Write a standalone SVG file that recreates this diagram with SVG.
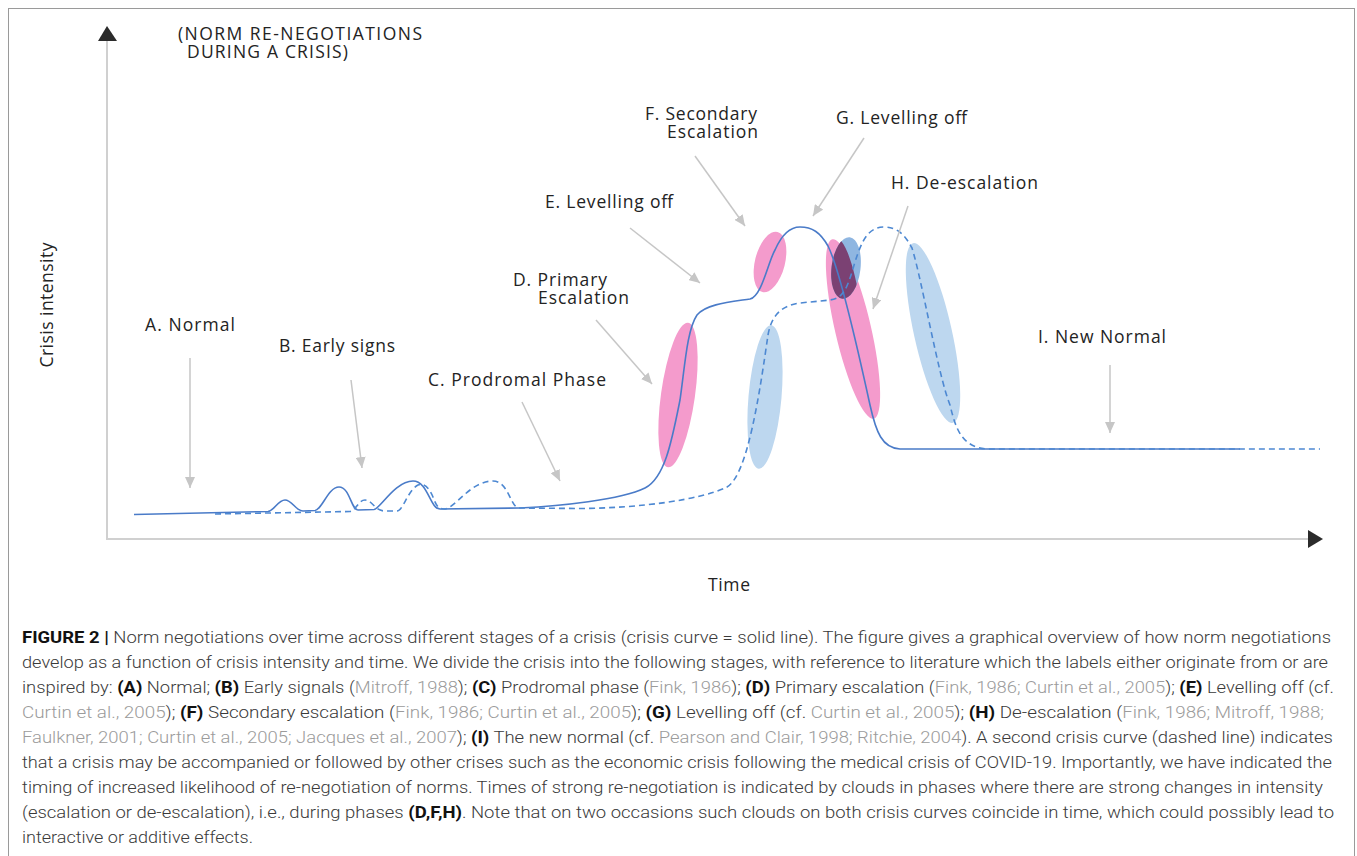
<svg xmlns="http://www.w3.org/2000/svg" width="1357" height="856" viewBox="0 0 1357 856">
<style>
.lbl{font-family:"Open Sans","Liberation Sans",sans-serif;font-size:17.5px;fill:#232323}
.cap{font-family:Roboto,"Liberation Sans",sans-serif;font-size:16.5px;font-weight:300;fill:#3a3a3a}
.b{font-weight:bold;fill:#111}
.g{fill:#9b9b9b}
.ann{stroke:#c6c6c6;stroke-width:1.5;fill:none;marker-end:url(#ah)}
.axis{stroke:#d0d0d0;stroke-width:2;fill:none}
.pink{fill:#f49bcc}
.blue{fill:#bdd7ef}
.blue2{fill:#8fb6e1}
.solid{stroke:#4a7bc8;stroke-width:1.6;fill:none}
.dash{stroke:#4d88d2;stroke-width:1.6;fill:none;stroke-dasharray:6 4}
</style>
<defs>
<marker id="ah" markerUnits="userSpaceOnUse" markerWidth="11" markerHeight="10" refX="11" refY="5" orient="auto">
<path d="M0,0 L11,5 L0,10 z" fill="#c6c6c6"/>
</marker>
<clipPath id="clipH">
<ellipse cx="853" cy="329" rx="18" ry="92" transform="rotate(-13 853 329)"/>
</clipPath>
</defs>
<rect x="8.5" y="8.5" width="1346" height="880" fill="#ffffff" stroke="#9a9a9a" stroke-width="1"/>

<g id="axes">
<line class="axis" x1="107" y1="40" x2="107" y2="540"/>
<line class="axis" x1="106" y1="539" x2="1310" y2="539"/>
<path d="M107,26 L117,41 L98,41 z" fill="#2b2b2b"/>
<path d="M1323,539 L1308,530 L1308,548 z" fill="#2b2b2b"/>
<text class="lbl"><tspan x="178" y="40" textLength="244">(NORM RE-NEGOTIATIONS</tspan><tspan x="187" y="58" textLength="161">DURING A CRISIS)</tspan></text>
<text class="lbl" transform="translate(53,305) rotate(-90)" text-anchor="middle" textLength="125">Crisis intensity</text>
<text class="lbl" x="729" y="591" text-anchor="middle" textLength="42">Time</text>
</g>

<g id="clouds">
<ellipse id="cloud-D" class="pink" cx="678" cy="395" rx="17" ry="73" transform="rotate(8 678 395)"/>
<ellipse id="cloud-F" class="pink" cx="770" cy="262" rx="15" ry="31" transform="rotate(14 770 262)"/>
<ellipse id="cloud-H" class="pink" cx="853" cy="329" rx="18" ry="92" transform="rotate(-13 853 329)"/>
<ellipse id="cloud-2a" class="blue" cx="765" cy="397" rx="16.5" ry="72" transform="rotate(5 765 397)"/>
<ellipse id="cloud-2b" class="blue2" cx="846" cy="268" rx="14.5" ry="31" transform="rotate(7 846 268)"/>
<ellipse id="cloud-overlap" cx="846" cy="268" rx="14.5" ry="31" transform="rotate(7 846 268)" fill="#7b4173" clip-path="url(#clipH)"/>
<ellipse id="cloud-2c" class="blue" cx="933" cy="333" rx="19" ry="92" transform="rotate(-12.5 933 333)"/>
</g>

<g id="curves">
<path id="curve-solid" class="solid" d="M134,514.5 L268,511.5 C274,511 278,500 285,500 C292,500 296,511 303,511 L315,510.5 C322,510 328,487 339,487 C350,487 351,510 358,510 L374,509.5 C380,509 395,481 413,481 C428,481 430,509 440,509 L520,508 C560,506 620,500 645,488 C665,478 672,440 680,400 C685,365 687,330 697,315 C706,304 730,302 750,299 C762,296 768,262 775,250 C782,234 790,227 800,227 C812,227 820,232 828,246 C840,270 858,350 870,405 C876,432 882,448 900,449 L1240,449"/>
<path id="curve-dashed" class="dash" d="M215,514 L350,511.5 C356,511 358,500 365,500 C372,500 375,511 385,511 L397,511 C403,511 408,490 418,485 C425,482 430,490 433,497 C436,505 438,509 444,509 C455,509 470,481 493,481 C508,481 510,505 518,508 L580,508.5 C640,508 700,500 727,487 C748,475 760,390 768,335 C772,312 785,305 800,303 L830,300 C845,298 848,285 855,262 C862,240 868,228 883,227 C898,227 905,235 912,248 C922,280 938,375 950,405 C956,430 962,447 987,449 L1320,449"/>
</g>

<g id="connectors">
<line class="ann" x1="190" y1="358" x2="190" y2="488"/>
<line class="ann" x1="351" y1="380" x2="362" y2="468"/>
<line class="ann" x1="522" y1="402" x2="560" y2="481"/>
<line class="ann" x1="596" y1="320" x2="652" y2="384"/>
<line class="ann" x1="630" y1="228" x2="700" y2="283"/>
<line class="ann" x1="695" y1="156" x2="745" y2="226"/>
<line class="ann" x1="864" y1="138" x2="813" y2="216"/>
<line class="ann" x1="908" y1="206" x2="873" y2="309"/>
<line class="ann" x1="1110" y1="365" x2="1110" y2="433"/>
</g>

<g id="node-A"><text class="lbl" x="145" y="331" textLength="90">A. Normal</text></g>
<g id="node-B"><text class="lbl" x="279" y="352" textLength="116">B. Early signs</text></g>
<g id="node-C"><text class="lbl" x="428" y="386" textLength="178">C. Prodromal Phase</text></g>
<g id="node-D"><text class="lbl"><tspan x="513" y="286" textLength="94">D. Primary</tspan><tspan x="538" y="304" textLength="91">Escalation</tspan></text></g>
<g id="node-E"><text class="lbl" x="545" y="208" textLength="128">E. Levelling off</text></g>
<g id="node-F"><text class="lbl"><tspan x="645" y="120" textLength="112">F. Secondary</tspan><tspan x="667" y="138" textLength="91">Escalation</tspan></text></g>
<g id="node-G"><text class="lbl" x="836" y="124" textLength="131">G. Levelling off</text></g>
<g id="node-H"><text class="lbl" x="891" y="189" textLength="147">H. De-escalation</text></g>
<g id="node-I"><text class="lbl" x="1038" y="343" textLength="128">I. New Normal</text></g>

<g id="caption">
<text class="cap" x="22" y="643" textLength="1309" lengthAdjust="spacingAndGlyphs"><tspan class="b">FIGURE 2 |</tspan> Norm negotiations over time across different stages of a crisis (crisis curve = solid line). The figure gives a graphical overview of how norm negotiations</text>
<text class="cap" x="22" y="668" textLength="1306" lengthAdjust="spacingAndGlyphs">develop as a function of crisis intensity and time. We divide the crisis into the following stages, with reference to literature which the labels either originate from or are</text>
<text class="cap" x="22" y="693" textLength="1312" lengthAdjust="spacingAndGlyphs">inspired by: <tspan class="b">(A)</tspan> Normal; <tspan class="b">(B)</tspan> Early signals (<tspan class="g">Mitroff, 1988</tspan>); <tspan class="b">(C)</tspan> Prodromal phase (<tspan class="g">Fink, 1986</tspan>); <tspan class="b">(D)</tspan> Primary escalation (<tspan class="g">Fink, 1986; Curtin et al., 2005</tspan>); <tspan class="b">(E)</tspan> Levelling off (cf.</text>
<text class="cap" x="22" y="718" textLength="1302" lengthAdjust="spacingAndGlyphs"><tspan class="g">Curtin et al., 2005</tspan>); <tspan class="b">(F)</tspan> Secondary escalation (<tspan class="g">Fink, 1986; Curtin et al., 2005</tspan>); <tspan class="b">(G)</tspan> Levelling off (cf. <tspan class="g">Curtin et al., 2005</tspan>); <tspan class="b">(H)</tspan> De-escalation (<tspan class="g">Fink, 1986; Mitroff, 1988;</tspan></text>
<text class="cap" x="22" y="743" textLength="1311" lengthAdjust="spacingAndGlyphs"><tspan class="g">Faulkner, 2001; Curtin et al., 2005; Jacques et al., 2007</tspan>); <tspan class="b">(I)</tspan> The new normal (cf. <tspan class="g">Pearson and Clair, 1998; Ritchie, 2004</tspan>). A second crisis curve (dashed line) indicates</text>
<text class="cap" x="22" y="768" textLength="1310" lengthAdjust="spacingAndGlyphs">that a crisis may be accompanied or followed by other crises such as the economic crisis following the medical crisis of COVID-19. Importantly, we have indicated the</text>
<text class="cap" x="22" y="793" textLength="1301" lengthAdjust="spacingAndGlyphs">timing of increased likelihood of re-negotiation of norms. Times of strong re-negotiation is indicated by clouds in phases where there are strong changes in intensity</text>
<text class="cap" x="22" y="818" textLength="1312" lengthAdjust="spacingAndGlyphs">(escalation or de-escalation), i.e., during phases <tspan class="b">(D,F,H)</tspan>. Note that on two occasions such clouds on both crisis curves coincide in time, which could possibly lead to</text>
<text class="cap" x="22" y="843" textLength="231" lengthAdjust="spacingAndGlyphs">interactive or additive effects.</text>
</g>
</svg>
